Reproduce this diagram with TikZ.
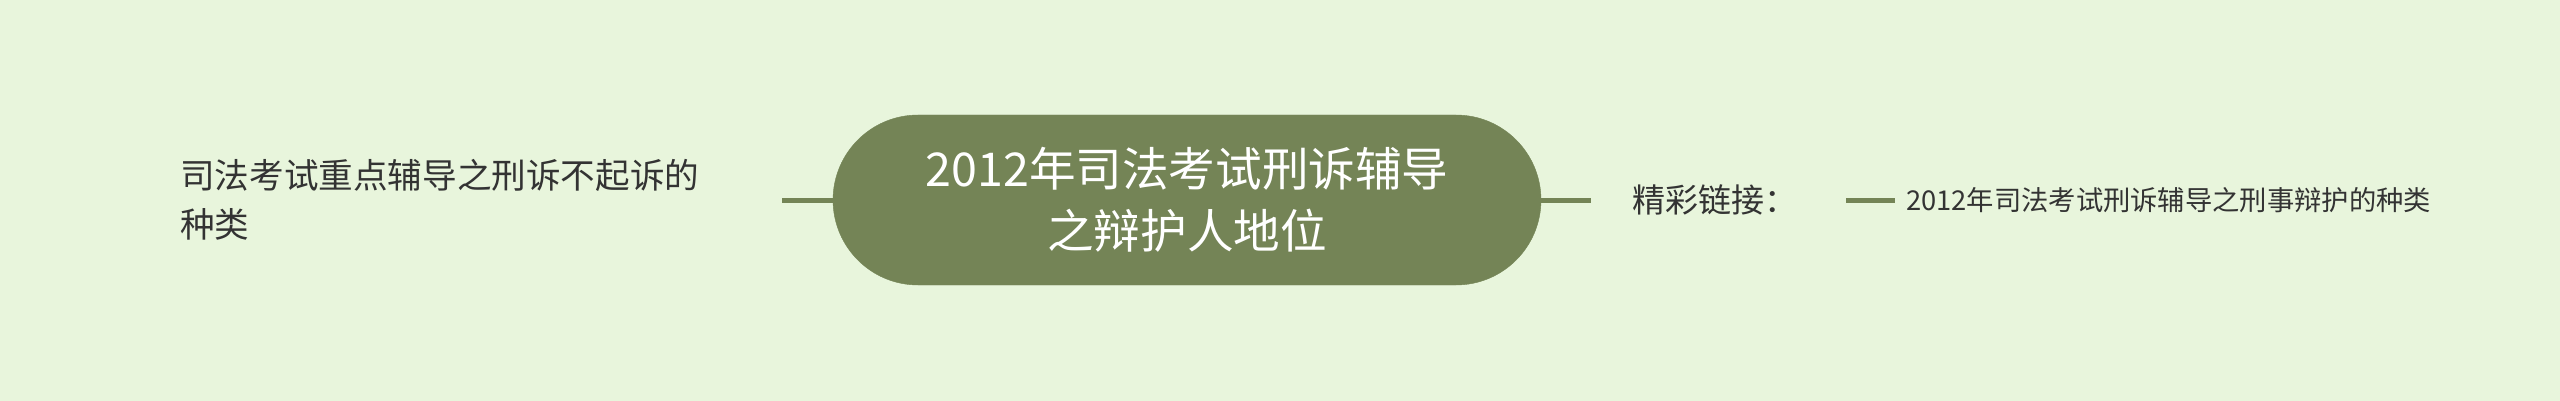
\documentclass[tikz,border=0pt]{standalone}
\usepackage{fontspec}
\setmainfont{Noto Sans CJK SC}
\usetikzlibrary{shapes.misc}
\definecolor{bg}{HTML}{E8F5DC}
\definecolor{olive}{HTML}{748456}
\definecolor{ink}{HTML}{333333}
\tikzset{
  centernode/.style={rounded rectangle, fill=olive, draw=olive, minimum width=708pt, minimum height=170pt, inner sep=0pt, text=white, align=center, font=\fontsize{46.6pt}{62pt}\selectfont},
  subtext/.style={inner sep=0pt, text=ink, align=left, anchor=west},
  link/.style={draw=olive, line width=5pt}
}
\begin{document}
\begin{tikzpicture}[x=1pt,y=-1pt]
\fill[bg] (0,0) rectangle (2560,401);
\useasboundingbox (0,0) rectangle (2560,401);
\node[centernode] (center) at (1187,200) {2012年司法考试刑诉辅导\\之辩护人地位};
\node[subtext, font=\fontsize{34.6pt}{49pt}\selectfont] (leftnode) at (180,200) {司法考试重点辅导之刑诉不起诉的\\种类};
\node[subtext, font=\fontsize{33pt}{40pt}\selectfont] (linknode) at (1632,200) {精彩链接：};
\node[subtext, font=\fontsize{27.3pt}{34pt}\selectfont] (rightnode) at (1906,200) {2012年司法考试刑诉辅导之刑事辩护的种类};
\coordinate (la) at (782,200);
\coordinate (ra) at (1591,200);
\coordinate (sa) at (1846,200);
\coordinate (sb) at (1895,200);
\draw[link] (la) -- (center.west);
\draw[link] (center.east) -- (ra);
\draw[link] (sa) -- (sb);
\end{tikzpicture}
\end{document}
